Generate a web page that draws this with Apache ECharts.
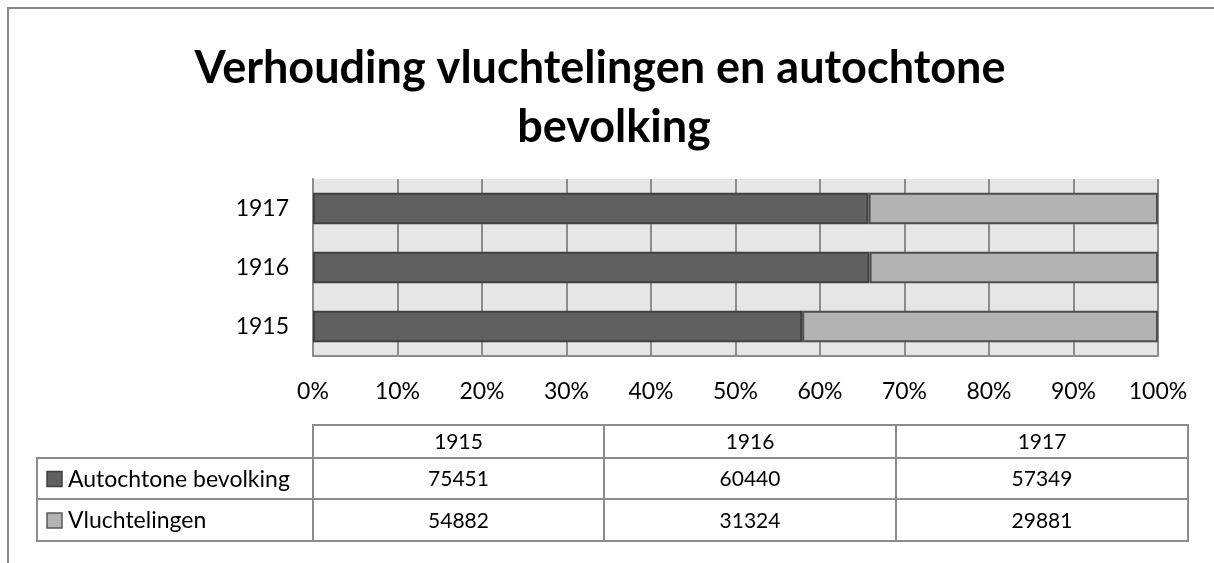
<!DOCTYPE html>
<html>
<head>
<meta charset="utf-8">
<script src="https://cdn.jsdelivr.net/npm/echarts@6/dist/echarts.min.js"></script>
<style>
  html, body { margin: 0; padding: 0; background: #fff; }
  #chart { width: 1214px; height: 563px; }
</style>
</head>
<body>
<div id="chart"></div>
<script>
  // gegevens
  const years = ['1915', '1916', '1917']
  const seriesNames = ['Autochtone bevolking', 'Vluchtelingen']
  const autochtoon = [75451, 60440, 57349]
  const vluchtelingen = [54882, 31324, 29881]
  const xTicks = [0, 10, 20, 30, 40, 50, 60, 70, 80, 90, 100]

  const fontName = 'Lato, "Open Sans", sans-serif'
  const darkFill = '#606060'
  const lightFill = '#b3b3b3'
  const gridColor = '#8c8c8c'

  // aandeel in procenten (100% gestapeld)
  const pctAuto = autochtoon.map((v, i) => v / (v + vluchtelingen[i]) * 100)
  const pctVlucht = vluchtelingen.map((v, i) => v / (v + autochtoon[i]) * 100)

  const chart = echarts.init(document.getElementById('chart'))

  // tabel onder de grafiek
  const colX = [37, 313, 604, 896, 1188]
  const rowY = [425, 458, 499, 541]
  const tableRows = [autochtoon, vluchtelingen]
  const swatches = [
    { fill: darkFill, stroke: '#404040' },
    { fill: lightFill, stroke: '#595959' }
  ]
  const graphics = []

  // buitenrand
  graphics.push({
    type: 'polyline',
    shape: { points: [[8, 563], [8, 8], [1214, 8]] },
    style: { stroke: '#8a8a8a', lineWidth: 2, fill: null },
    silent: true
  })

  // titel
  graphics.push({
    type: 'text', x: 600, y: 68,
    style: { text: 'Verhouding vluchtelingen en autochtone', font: 'bold 45px ' + fontName, fill: '#000', align: 'center', verticalAlign: 'middle' }
  })
  graphics.push({
    type: 'text', x: 614, y: 127,
    style: { text: 'bevolking', font: 'bold 45px ' + fontName, fill: '#000', align: 'center', verticalAlign: 'middle' }
  })

  // kopregel
  years.forEach((y, c) => {
    graphics.push({
      type: 'rect',
      shape: { x: colX[c + 1], y: rowY[0], width: colX[c + 2] - colX[c + 1], height: rowY[1] - rowY[0] },
      style: { fill: '#fff', stroke: gridColor, lineWidth: 2 }
    })
    graphics.push({
      type: 'text', x: (colX[c + 1] + colX[c + 2]) / 2, y: (rowY[0] + rowY[1]) / 2 + 1,
      style: { text: y, font: '21px ' + fontName, fill: '#000', align: 'center', verticalAlign: 'middle' }
    })
  })

  // gegevensregels
  tableRows.forEach((row, r) => {
    const top = rowY[r + 1]
    const h = rowY[r + 2] - top
    const mid = top + h / 2 + 1
    graphics.push({
      type: 'rect',
      shape: { x: colX[0], y: top, width: colX[1] - colX[0], height: h },
      style: { fill: '#fff', stroke: gridColor, lineWidth: 2 }
    })
    graphics.push({
      type: 'rect',
      shape: { x: 47, y: mid - 8, width: 15, height: 15 },
      style: { fill: swatches[r].fill, stroke: swatches[r].stroke, lineWidth: 1.5 }
    })
    graphics.push({
      type: 'text', x: 68, y: mid,
      style: { text: seriesNames[r], font: '23px ' + fontName, fill: '#000', align: 'left', verticalAlign: 'middle' }
    })
    row.forEach((v, c) => {
      graphics.push({
        type: 'rect',
        shape: { x: colX[c + 1], y: top, width: colX[c + 2] - colX[c + 1], height: h },
        style: { fill: '#fff', stroke: gridColor, lineWidth: 2 }
      })
      graphics.push({
        type: 'text', x: (colX[c + 1] + colX[c + 2]) / 2, y: mid,
        style: { text: String(v), font: '21px ' + fontName, fill: '#000', align: 'center', verticalAlign: 'middle' }
      })
    })
  })

  const option = {
    backgroundColor: '#fff',
    animation: false,
    textStyle: { fontFamily: fontName },
    grid: {
      left: 313,
      right: 56,
      top: 179,
      bottom: 207,
      show: true,
      backgroundColor: '#e6e6e6',
      borderWidth: 0,
      outerBoundsMode: 'none'
    },
    xAxis: {
      type: 'value',
      min: xTicks[0],
      max: xTicks[xTicks.length - 1],
      interval: xTicks[1] - xTicks[0],
      axisLine: { show: true, lineStyle: { color: gridColor, width: 2 } },
      axisTick: { show: false },
      axisLabel: { formatter: '{value}%', fontSize: 23, color: '#000', margin: 24, fontFamily: fontName },
      splitLine: { show: true, lineStyle: { color: gridColor, width: 2 } }
    },
    yAxis: {
      type: 'category',
      data: years,
      axisLine: { show: true, lineStyle: { color: gridColor, width: 2 } },
      axisTick: { show: false },
      axisLabel: { fontSize: 23, color: '#000', margin: 24, fontFamily: fontName },
      splitLine: { show: false }
    },
    series: [
      {
        name: seriesNames[0],
        type: 'bar',
        stack: 'totaal',
        barCategoryGap: '47%',
        data: pctAuto,
        itemStyle: { color: darkFill, borderColor: '#404040', borderWidth: 2 }
      },
      {
        name: seriesNames[1],
        type: 'bar',
        stack: 'totaal',
        data: pctVlucht,
        itemStyle: { color: lightFill, borderColor: '#4d4d4d', borderWidth: 2 }
      }
    ],
    graphic: graphics
  }
  chart.setOption(option)
</script>
</body>
</html>
